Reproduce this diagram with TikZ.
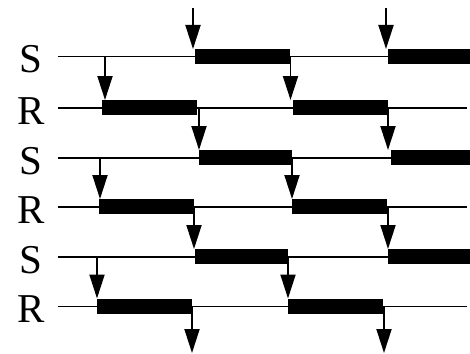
\documentclass[tikz,border=0pt]{standalone}
\usepackage{fontspec}
\setmainfont{Liberation Serif}
\usetikzlibrary{arrows.meta}

\begin{document}
\begin{tikzpicture}[x=1pt,y=-1pt,
  sig/.style={line width=1.3pt},
  bar/.style={fill=black},
  msg/.style={line width=1.9pt,-{Triangle[length=24pt,width=15pt]}},
  lbl/.style={font=\fontsize{41}{41}\selectfont,inner sep=0pt}]
  \useasboundingbox (0,0) rectangle (470,353);

  % row labels
  \node[lbl] (ls1) at (31,59.5) {S};
  \node[lbl] (lr1) at (31,111) {R};
  \node[lbl] (ls2) at (31,161) {S};
  \node[lbl] (lr2) at (31,210) {R};
  \node[lbl] (ls3) at (31,260) {S};
  \node[lbl] (lr3) at (31,309.5) {R};

  % signal lines
  \draw[sig] (58,56.5) -- (470,56.5);
  \draw[sig] (58,108) -- (467,108);
  \draw[sig] (58,158) -- (470,158);
  \draw[sig] (58,207) -- (467,207);
  \draw[sig] (58,257) -- (470,257);
  \draw[sig] (58,306.5) -- (467,306.5);

  % busy bars
  \fill[bar] (195,49) rectangle (290,64);
  \fill[bar] (388,49) rectangle (470,64);
  \fill[bar] (102,100) rectangle (197,115);
  \fill[bar] (293,100) rectangle (388,115);
  \fill[bar] (199,150) rectangle (292,165);
  \fill[bar] (391,150) rectangle (470,165);
  \fill[bar] (99,199) rectangle (194,214);
  \fill[bar] (292,199) rectangle (387,214);
  \fill[bar] (195,249) rectangle (288,264);
  \fill[bar] (388,249) rectangle (470,264);
  \fill[bar] (97,298.5) rectangle (192,313.5);
  \fill[bar] (288,298.5) rectangle (383,313.5);

  % arrow ends
  \coordinate (in1) at (193,8);
  \coordinate (in2) at (386,8);
  \coordinate (s1a) at (193,49);
  \coordinate (s1b) at (386,49);
  \coordinate (s1c) at (105,56.5);
  \coordinate (s1d) at (290.5,56.5);
  \coordinate (r1a) at (105,100);
  \coordinate (r1b) at (290.5,100);
  \coordinate (r1c) at (199,108);
  \coordinate (r1d) at (388,108);
  \coordinate (s2a) at (199,150);
  \coordinate (s2b) at (388,150);
  \coordinate (s2c) at (100,158);
  \coordinate (s2d) at (292,158);
  \coordinate (r2a) at (100,199);
  \coordinate (r2b) at (292,199);
  \coordinate (r2c) at (194,207);
  \coordinate (r2d) at (388,207);
  \coordinate (s3a) at (194,249);
  \coordinate (s3b) at (388,249);
  \coordinate (s3c) at (97,257);
  \coordinate (s3d) at (288,257);
  \coordinate (r3a) at (97,298.5);
  \coordinate (r3b) at (288,298.5);
  \coordinate (r3c) at (192,306.5);
  \coordinate (r3d) at (384,306.5);
  \coordinate (out1) at (192,353);
  \coordinate (out2) at (384,353);

  \draw[msg] (in1) -- (s1a);
  \draw[msg] (in2) -- (s1b);
  \draw[msg] (s1c) -- (r1a);
  \draw[msg] (s1d) -- (r1b);
  \draw[msg] (r1c) -- (s2a);
  \draw[msg] (r1d) -- (s2b);
  \draw[msg] (s2c) -- (r2a);
  \draw[msg] (s2d) -- (r2b);
  \draw[msg] (r2c) -- (s3a);
  \draw[msg] (r2d) -- (s3b);
  \draw[msg] (s3c) -- (r3a);
  \draw[msg] (s3d) -- (r3b);
  \draw[msg] (r3c) -- (out1);
  \draw[msg] (r3d) -- (out2);
\end{tikzpicture}
\end{document}
